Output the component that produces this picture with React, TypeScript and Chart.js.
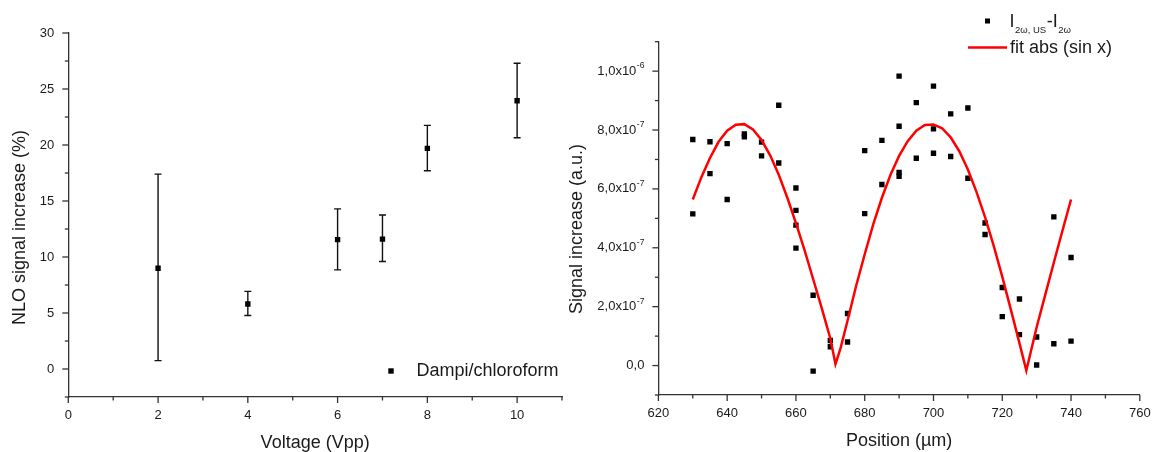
import { useEffect, useRef } from 'react';
import { Chart, registerables } from 'chart.js';

Chart.register(...registerables);

// ===== Left panel: NLO signal increase vs voltage =====
const voltageVpp = [2, 4, 6, 7, 8, 10];
const nloSignalPct = [9.0, 5.8, 11.55, 11.6, 19.7, 23.95];
const nloErrUpper = [17.4, 6.93, 14.3, 13.75, 21.75, 27.3];
const nloErrLower = [0.75, 4.78, 8.85, 9.6, 17.7, 20.65];
const leftXTickLabels = [0, 2, 4, 6, 8, 10];
const leftYTickLabels = [0, 5, 10, 15, 20, 25, 30];

// ===== Right panel: signal increase vs position =====
const positionUm = [
  630, 630, 635, 635, 640, 640, 645, 645, 650, 650, 655, 655,
  660, 660, 660, 660, 665, 665, 670, 670, 675, 675, 680, 680,
  685, 685, 690, 690, 690, 690, 695, 695, 700, 700, 700, 705, 705,
  710, 710, 715, 715, 720, 720, 725, 725, 730, 730, 735, 735, 740, 740,
];
const signalAU = [
  7.68e-7, 5.15e-7, 7.6e-7, 6.52e-7, 7.54e-7, 5.64e-7, 7.87e-7, 7.77e-7, 7.59e-7, 7.12e-7, 8.84e-7, 6.88e-7,
  6.03e-7, 5.27e-7, 4.77e-7, 3.99e-7, 2.39e-7, -0.19e-7, 0.85e-7, 0.64e-7, 1.77e-7, 0.8e-7, 7.3e-7, 5.16e-7,
  7.65e-7, 6.15e-7, 9.83e-7, 8.13e-7, 6.56e-7, 6.43e-7, 8.93e-7, 7.04e-7, 9.49e-7, 8.04e-7, 7.21e-7, 8.55e-7, 7.1e-7,
  8.75e-7, 6.36e-7, 4.84e-7, 4.45e-7, 2.65e-7, 1.66e-7, 2.26e-7, 1.05e-7, 0.97e-7, 0.02e-7, 5.05e-7, 0.74e-7, 3.67e-7, 0.83e-7,
];
const fitPositionUm = [
  630, 632.5, 635, 637.5, 640, 642.5, 645, 647.5, 650, 652.5, 655, 657.5, 660, 662.5, 665, 667.5, 670, 671.5,
  673, 675, 677.5, 680, 682.5, 685, 687.5, 690, 692.5, 695, 697.5, 700, 702.5, 705, 707.5, 710, 712.5, 715,
  717.5, 720, 722.5, 725, 727, 730, 732.5, 735, 737.5, 740,
];
const fitSignalAU = [
  5.64e-7, 6.4e-7, 7.05e-7, 7.6e-7, 7.98e-7, 8.18e-7, 8.2e-7, 8.02e-7, 7.66e-7, 7.14e-7, 6.48e-7, 5.7e-7,
  4.84e-7, 3.92e-7, 2.94e-7, 1.95e-7, 0.92e-7, 0.05e-7, 0.6e-7, 1.52e-7, 2.7e-7, 3.78e-7, 4.8e-7, 5.7e-7,
  6.48e-7, 7.12e-7, 7.62e-7, 7.98e-7, 8.17e-7, 8.19e-7, 8.06e-7, 7.75e-7, 7.28e-7, 6.66e-7, 5.9e-7, 5.04e-7,
  4.07e-7, 3.02e-7, 1.9e-7, 0.76e-7, -0.17e-7, 1.3e-7, 2.4e-7, 3.5e-7, 4.58e-7, 5.64e-7,
];
const rightXTickLabels = [620, 640, 660, 680, 700, 720, 740, 760];
const rightYTickLabels = [0, 2e-7, 4e-7, 6e-7, 8e-7, 1e-6];

// ===== Styling =====
const FONT = '"Liberation Sans", Arial, Helvetica, sans-serif';
const AXIS = '#333333';
const TXT = '#1a1a1a';
const W = 1154;
const H = 452;
const SPLIT = 566;

const near = (a: number, b: number, tol: number) => Math.abs(a - b) < tol;

function tickMarks(xMajor: number[], yMajor: number[], xTol: number, yTol: number) {
  return {
    id: 'tickMarks',
    afterDraw(chart: any) {
      const { ctx } = chart;
      const xs = chart.scales.x;
      const ys = chart.scales.y;
      ctx.save();
      ctx.strokeStyle = AXIS;
      ctx.lineWidth = 1.3;
      xs.ticks.forEach((t: any) => {
        const major = xMajor.some((m) => near(m, t.value, xTol));
        const px = xs.getPixelForValue(t.value);
        ctx.beginPath();
        ctx.moveTo(px, xs.top);
        ctx.lineTo(px, xs.top + (major ? 6 : 3.5));
        ctx.stroke();
      });
      ys.ticks.forEach((t: any) => {
        const major = yMajor.some((m) => near(m, t.value, yTol));
        const py = ys.getPixelForValue(t.value);
        ctx.beginPath();
        ctx.moveTo(ys.right, py);
        ctx.lineTo(ys.right - (major ? 6 : 3.5), py);
        ctx.stroke();
      });
      ctx.restore();
    },
  };
}

function yTitle(text: string, cx: number, cy: number) {
  return {
    id: 'yTitle',
    afterDraw(chart: any) {
      const { ctx } = chart;
      ctx.save();
      ctx.translate(cx, cy);
      ctx.rotate(-Math.PI / 2);
      ctx.font = `18px ${FONT}`;
      ctx.fillStyle = TXT;
      ctx.textAlign = 'center';
      ctx.textBaseline = 'middle';
      ctx.fillText(text, 0, 0);
      ctx.restore();
    },
  };
}

const errorBars = {
  id: 'errorBars',
  beforeDatasetsDraw(chart: any) {
    const { ctx } = chart;
    const xs = chart.scales.x;
    const ys = chart.scales.y;
    ctx.save();
    ctx.strokeStyle = '#111111';
    ctx.lineWidth = 1.4;
    voltageVpp.forEach((v, i) => {
      const px = xs.getPixelForValue(v);
      const top = ys.getPixelForValue(nloErrUpper[i]);
      const bot = ys.getPixelForValue(nloErrLower[i]);
      ctx.beginPath();
      ctx.moveTo(px, top);
      ctx.lineTo(px, bot);
      ctx.moveTo(px - 3.5, top);
      ctx.lineTo(px + 3.5, top);
      ctx.moveTo(px - 3.5, bot);
      ctx.lineTo(px + 3.5, bot);
      ctx.stroke();
    });
    ctx.restore();
  },
};

const leftLegend = {
  id: 'leftLegend',
  afterDraw(chart: any) {
    const { ctx } = chart;
    ctx.save();
    ctx.fillStyle = '#000';
    ctx.fillRect(391 - 2.7, 371 - 2.7, 5.4, 5.4);
    ctx.font = `18px ${FONT}`;
    ctx.fillStyle = TXT;
    ctx.textAlign = 'left';
    ctx.textBaseline = 'middle';
    ctx.fillText(chart.data.datasets[0].label, 416.5, 371);
    ctx.restore();
  },
};

const rightLegend = {
  id: 'rightLegend',
  afterDraw(chart: any) {
    const { ctx } = chart;
    const ox = SPLIT;
    ctx.save();
    // scatter entry
    ctx.fillStyle = '#000';
    ctx.fillRect(987.5 - ox - 2.5, 21 - 2.5, 5, 5);
    ctx.fillStyle = TXT;
    ctx.textAlign = 'left';
    ctx.textBaseline = 'alphabetic';
    let x = 1009.5 - ox;
    const base = 26.8;
    ctx.font = `18px ${FONT}`;
    ctx.fillText('I', x, base);
    x += ctx.measureText('I').width + 0.5;
    ctx.font = `9.5px ${FONT}`;
    ctx.fillText('2ω, US', x, base + 6);
    x += ctx.measureText('2ω, US').width + 0.5;
    ctx.font = `18px ${FONT}`;
    ctx.fillText('-I', x, base);
    x += ctx.measureText('-I').width + 0.5;
    ctx.font = `9.5px ${FONT}`;
    ctx.fillText('2ω', x, base + 6);
    // fit entry
    ctx.strokeStyle = '#ff0000';
    ctx.lineWidth = 2.5;
    ctx.beginPath();
    ctx.moveTo(968 - ox, 47.5);
    ctx.lineTo(1007 - ox, 47.5);
    ctx.stroke();
    ctx.font = `18px ${FONT}`;
    ctx.fillStyle = TXT;
    ctx.textBaseline = 'middle';
    ctx.fillText(chart.data.datasets[0].label, 1010 - ox, 48);
    ctx.restore();
  },
};

function sciParts(v: number) {
  if (Math.abs(v) < 1e-12) return { mant: '0,0', exp: '' };
  const e = Math.floor(Math.log10(Math.abs(v)) + 1e-9);
  const m = v / Math.pow(10, e);
  return { mant: m.toFixed(1).replace('.', ',') + 'x10', exp: String(e) };
}

const rightYLabels = {
  id: 'rightYLabels',
  afterDraw(chart: any) {
    const { ctx } = chart;
    const ys = chart.scales.y;
    const edge = ys.right - 14;
    ctx.save();
    ctx.fillStyle = TXT;
    ctx.textAlign = 'right';
    ctx.textBaseline = 'middle';
    rightYTickLabels.forEach((v) => {
      const py = ys.getPixelForValue(v);
      const { mant, exp } = sciParts(v);
      let right = edge;
      if (exp) {
        ctx.font = `8.5px ${FONT}`;
        ctx.fillText(exp, right, py - 5);
        right -= ctx.measureText(exp).width + 0.5;
      }
      ctx.font = `13px ${FONT}`;
      ctx.fillText(mant, right, py);
    });
    ctx.restore();
  },
};

function axisBase(min: number, max: number, step: number) {
  return {
    type: 'linear' as const,
    min,
    max,
    grid: { display: true, drawOnChartArea: false, drawTicks: false, color: 'rgba(0,0,0,0)' },
    border: { display: true, color: AXIS, width: 1.3 },
    ticks: {
      stepSize: step,
      autoSkip: false,
      maxRotation: 0,
      minRotation: 0,
      color: TXT,
      font: { family: FONT, size: 13 },
    },
  };
}

function leftConfig(): any {
  const x = axisBase(0, 11, 1);
  const y = axisBase(-2.5, 30, 2.5);
  return {
    type: 'scatter',
    data: {
      datasets: [
        {
          label: 'Dampi/chloroform',
          data: voltageVpp.map((v, i) => ({ x: v, y: nloSignalPct[i] })),
          pointStyle: 'rect',
          pointRadius: 3.8,
          backgroundColor: '#000',
          borderWidth: 0,
        },
      ],
    },
    options: {
      responsive: false,
      animation: false,
      devicePixelRatio: 1,
      layout: { padding: { left: 0, top: 33, right: SPLIT - 563.3, bottom: 0 } },
      plugins: { legend: { display: false }, tooltip: { enabled: false } },
      scales: {
        x: {
          ...x,
          afterFit: (s: any) => {
            s.height = H - 397;
            s.paddingLeft = 0;
            s.paddingRight = 0;
          },
          ticks: {
            ...x.ticks,
            padding: 11,
            callback: (v: number) => (leftXTickLabels.some((m) => near(m, v, 1e-6)) ? String(v) : ''),
          },
          title: {
            display: true,
            text: 'Voltage (Vpp)',
            color: TXT,
            font: { family: FONT, size: 18, lineHeight: 1 },
            padding: { top: 0, bottom: 0 },
          },
        },
        y: {
          ...y,
          afterFit: (s: any) => {
            s.width = 68.3;
            s.paddingTop = 0;
            s.paddingBottom = 0;
          },
          ticks: {
            ...y.ticks,
            padding: 14,
            callback: (v: number) => (leftYTickLabels.some((m) => near(m, v, 1e-6)) ? String(v) : ''),
          },
        },
      },
    },
    plugins: [
      errorBars,
      tickMarks(leftXTickLabels, leftYTickLabels, 1e-6, 1e-6),
      yTitle('NLO signal increase (%)', 20.5, 227.5),
      leftLegend,
    ],
  };
}

function rightConfig(): any {
  const x = axisBase(620, 760, 10);
  const y = axisBase(-1e-7, 1.1e-6, 1e-7);
  return {
    type: 'scatter',
    data: {
      datasets: [
        {
          label: 'fit abs (sin x)',
          data: fitPositionUm.map((v, i) => ({ x: v, y: fitSignalAU[i] })),
          showLine: true,
          borderColor: '#ff0000',
          borderWidth: 2.5,
          pointRadius: 0,
          tension: 0,
          fill: false,
        },
        {
          label: 'I2ω,US-I2ω',
          data: positionUm.map((v, i) => ({ x: v, y: signalAU[i] })),
          pointStyle: 'rect',
          pointRadius: 3.8,
          backgroundColor: '#000',
          borderWidth: 0,
        },
      ],
    },
    options: {
      responsive: false,
      animation: false,
      devicePixelRatio: 1,
      layout: { padding: { left: 0, top: 41.7, right: W - 1139.8, bottom: 0 } },
      plugins: { legend: { display: false }, tooltip: { enabled: false } },
      scales: {
        x: {
          ...x,
          afterFit: (s: any) => {
            s.height = H - 395;
            s.paddingLeft = 0;
            s.paddingRight = 0;
          },
          ticks: {
            ...x.ticks,
            padding: 11,
            callback: (v: number) => (rightXTickLabels.some((m) => near(m, v, 1e-6)) ? String(v) : ''),
          },
          title: {
            display: true,
            text: 'Position (µm)',
            color: TXT,
            font: { family: FONT, size: 18, lineHeight: 1 },
            padding: { top: 0, bottom: 2 },
          },
        },
        y: {
          ...y,
          afterFit: (s: any) => {
            s.width = 658.4 - SPLIT;
            s.paddingTop = 0;
            s.paddingBottom = 0;
          },
          ticks: { ...y.ticks, padding: 14, callback: () => '' },
        },
      },
    },
    plugins: [
      tickMarks(rightXTickLabels, rightYTickLabels, 1e-6, 1e-13),
      rightYLabels,
      yTitle('Signal increase (a.u.)', 577 - SPLIT, 229),
      rightLegend,
    ],
  };
}

function ChartCanvas({ make, left, width }: { make: () => any; left: number; width: number }) {
  const ref = useRef<HTMLCanvasElement | null>(null);
  useEffect(() => {
    if (!ref.current) return;
    const chart = new Chart(ref.current, make());
    return () => chart.destroy();
  }, []);
  return (
    <canvas
      ref={ref}
      width={width}
      height={H}
      style={{ position: 'absolute', left, top: 0, width, height: H, display: 'block' }}
    />
  );
}

export default function App() {
  return (
    <div style={{ position: 'absolute', left: 0, top: 0, width: W, height: H, background: '#fff', overflow: 'hidden' }}>
      <ChartCanvas make={leftConfig} left={0} width={SPLIT} />
      <ChartCanvas make={rightConfig} left={SPLIT} width={W - SPLIT} />
    </div>
  );
}
